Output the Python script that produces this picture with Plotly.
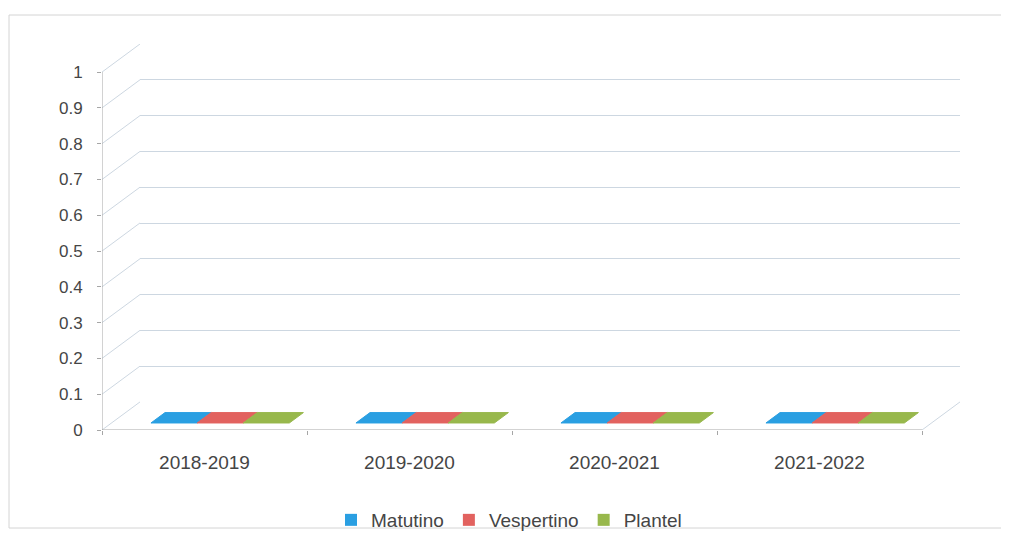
import plotly.graph_objects as go

# Datos del gráfico (todos los valores son cero en el original)
categorias = ['2018-2019', '2019-2020', '2020-2021', '2021-2022']
matutino = [0, 0, 0, 0]
vespertino = [0, 0, 0, 0]
plantel = [0, 0, 0, 0]
ticks_y = [0, 0.1, 0.2, 0.3, 0.4, 0.5, 0.6, 0.7, 0.8, 0.9, 1]
etiquetas_y = ['0', '0.1', '0.2', '0.3', '0.4', '0.5', '0.6', '0.7', '0.8', '0.9', '1']

series = [
    ('Matutino', matutino, '#2A9FE2'),
    ('Vespertino', vespertino, '#E2625F'),
    ('Plantel', plantel, '#98B84C'),
]

# la página tiene 8 px de margen en el body
OFF = 8
W, H = 1009 - OFF, 536 - OFF
# profundidad de la vista 3D (en unidades de los ejes frontales)
DX = 38 / 205
DY = 28 / 357
ANCHO_BARRA = 0.225
F_FRENTE, F_FONDO = 0.25, 0.62
GRID = '#CDD7E1'
EJE = '#A6A6A6'
TEXTO = '#454545'


def px_x(p):
    return (p - OFF) / W


def px_y(p):
    return 1 - (p - OFF) / H


fig = go.Figure()

xs = [i + 0.5 for i in range(len(categorias))]

# Barras (alto cero) para la leyenda
for nombre, valores, color in series:
    fig.add_trace(go.Bar(
        x=xs, y=valores, name=nombre,
        marker=dict(color=color, line=dict(width=0)),
        hoverinfo='skip'
    ))

# Caras superiores de las barras 3D
n = len(series)
for k, (nombre, valores, color) in enumerate(series):
    for j, v in enumerate(valores):
        x0 = xs[j] + 0.03 - n * ANCHO_BARRA / 2 + k * ANCHO_BARRA
        x1 = x0 + ANCHO_BARRA
        px = [x0 + F_FRENTE * DX, x1 + F_FRENTE * DX, x1 + F_FONDO * DX, x0 + F_FONDO * DX, x0 + F_FRENTE * DX]
        py = [v + F_FRENTE * DY, v + F_FRENTE * DY, v + F_FONDO * DY, v + F_FONDO * DY, v + F_FRENTE * DY]
        fig.add_trace(go.Scatter(
            x=px, y=py, mode='lines', fill='toself',
            fillcolor=color, line=dict(color=color, width=1),
            showlegend=False, hoverinfo='skip'
        ))

# Líneas de perspectiva desde el eje frontal hasta la pared del fondo
for v in ticks_y:
    fig.add_shape(type='line', xref='x', yref='y', x0=0, y0=v, x1=DX, y1=v + DY,
                  line=dict(color=GRID, width=1), layer='below')

# Eje vertical frontal, borde del piso
fig.add_shape(type='line', xref='x', yref='y', x0=0, y0=0, x1=0, y1=1,
              line=dict(color=EJE, width=1))
fig.add_shape(type='line', xref='x', yref='y', x0=0, y0=0, x1=len(categorias), y1=0,
              line=dict(color=EJE, width=1))
fig.add_shape(type='line', xref='x', yref='y', x0=len(categorias), y0=0,
              x1=len(categorias) + DX, y1=DY, line=dict(color=GRID, width=1))

# Marco del área del gráfico
fig.add_shape(type='rect', xref='paper', yref='paper',
              x0=px_x(9), y0=px_y(528), x1=1.01, y1=px_y(15),
              line=dict(color='#D4D4D4', width=1), layer='below')

fig.update_layout(
    width=W, height=H,
    margin=dict(l=0, r=0, t=0, b=0, autoexpand=False),
    paper_bgcolor='white', plot_bgcolor='rgba(0,0,0,0)',
    font=dict(family='Liberation Sans, Arial, sans-serif', color=TEXTO, size=17),
    barmode='group', bargap=0.32,
    showlegend=True,
    legend=dict(orientation='h', traceorder='normal', x=px_x(509), xanchor='center',
                y=px_y(520), yanchor='middle',
                font=dict(size=19, color=TEXTO), itemwidth=30, bgcolor='rgba(0,0,0,0)'),
    xaxis=dict(
        domain=[px_x(102), px_x(960)], range=[0, len(categorias) + DX],
        tickmode='array', tickvals=xs, ticktext=categorias, ticks='',
        showgrid=False, zeroline=False, showline=False,
        ticklabelstandoff=19, tickfont=dict(size=19, color=TEXTO),
        minor=dict(tickmode='array', tickvals=list(range(len(categorias) + 1)),
                   ticks='outside', ticklen=4, tickcolor=EJE, showgrid=False),
        fixedrange=True
    ),
    yaxis=dict(
        domain=[px_y(430), px_y(44)], range=[0, 1 + DY],
        tickmode='array', tickvals=ticks_y, ticktext=etiquetas_y,
        ticks='outside', ticklen=4, tickcolor=EJE,
        showgrid=False, zeroline=False, showline=False,
        ticklabelstandoff=11, tickfont=dict(size=17, color=TEXTO),
        fixedrange=True
    ),
    # pared del fondo con las líneas de división
    xaxis2=dict(domain=[px_x(140), px_x(960)], range=[0, 1], anchor='y2',
                showgrid=False, showticklabels=False, zeroline=False, fixedrange=True),
    yaxis2=dict(domain=[px_y(402.5), px_y(43.5)], range=[-0.0015, 1.0015], anchor='x2',
                tickmode='array', tickvals=ticks_y, showticklabels=False,
                showgrid=True, gridcolor=GRID, gridwidth=1, zeroline=False, fixedrange=True),
)

# traza invisible para activar los ejes del fondo
fig.add_trace(go.Scatter(x=[None], y=[None], xaxis='x2', yaxis='y2', showlegend=False, hoverinfo='skip'))

fig.write_html('out.html')
